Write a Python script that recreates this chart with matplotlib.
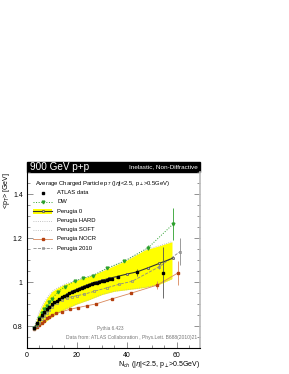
import matplotlib
matplotlib.use("Agg")
import matplotlib.pyplot as plt
from matplotlib.ticker import MultipleLocator
from matplotlib.patches import Rectangle
from matplotlib.lines import Line2D

plt.rcParams['font.family'] = ['Liberation Sans', 'DejaVu Sans']

# ATLAS data
n_data = [3, 4, 5, 6, 7, 8, 9, 10, 11, 12, 13, 14, 15, 16, 17, 18, 19, 20, 21, 22, 23, 24,
          25, 26, 27, 28, 29, 30, 31, 32, 33, 34, 36.5, 44, 54.5]
pt_data = [0.79, 0.812, 0.832, 0.849, 0.863, 0.876, 0.888, 0.898, 0.907, 0.915, 0.923, 0.93,
           0.937, 0.943, 0.949, 0.955, 0.96, 0.965, 0.97, 0.974, 0.978, 0.982, 0.986, 0.99,
           0.994, 0.997, 1.0, 1.003, 1.006, 1.009, 1.012, 1.015, 1.022, 1.044, 1.042]
err_data = [0.003] * 32 + [0.006, 0.015, 0.115]

# DW
n_dw = [3, 4, 5, 6, 7, 8, 9, 10, 12.5, 15.2, 19.2, 22.5, 26.5, 31.9, 39, 48.5, 58.3]
pt_dw = [0.79, 0.81, 0.835, 0.858, 0.877, 0.893, 0.91, 0.925, 0.956, 0.979, 1.005, 1.017,
         1.029, 1.062, 1.095, 1.156, 1.262]
err_dw = [0] * 15 + [0.01, 0.073]

# Perugia 0
n_p0 = [3, 4, 5, 6, 7, 8, 9, 10, 12, 14, 16, 18, 20, 22, 24, 26, 28, 30, 33, 36, 40, 44,
        48.5, 53, 58.3]
pt_p0 = [0.792, 0.812, 0.83, 0.846, 0.86, 0.873, 0.885, 0.896, 0.915, 0.931, 0.945, 0.957,
         0.968, 0.978, 0.987, 0.995, 1.002, 1.008, 1.017, 1.025, 1.036, 1.046, 1.065, 1.085,
         1.108]

# Perugia HARD / SOFT envelope
n_band = [3, 4, 5, 6, 7, 8, 10, 12.5, 15, 20, 25, 30, 35, 40, 47, 53, 58]
pt_hard = [0.80, 0.835, 0.865, 0.89, 0.91, 0.928, 0.957, 0.975, 0.99, 1.008, 1.027, 1.05,
           1.075, 1.10, 1.145, 1.165, 1.183]
pt_soft = [0.78, 0.79, 0.80, 0.808, 0.815, 0.825, 0.842, 0.86, 0.875, 0.90, 0.92, 0.943,
           0.958, 0.965, 0.975, 0.99, 1.015]

# Perugia NOCR
n_nocr = [3, 4, 5, 6, 7, 8, 9, 10, 11.5, 13.9, 17.2, 20.5, 23.9, 27.5, 33.9, 41.6, 52.1, 60.5]
pt_nocr = [0.785, 0.795, 0.805, 0.815, 0.825, 0.835, 0.843, 0.85, 0.858, 0.865, 0.876, 0.884,
           0.892, 0.9, 0.923, 0.949, 0.986, 1.042]
err_nocr = [0] * 16 + [0.02, 0.055]

# Perugia 2010
n_p10 = [3, 4, 5, 6, 7, 8, 9, 10, 12, 14, 16, 18, 20, 23, 27, 32, 37, 42, 53, 61.2]
pt_p10 = [0.785, 0.80, 0.815, 0.83, 0.845, 0.86, 0.875, 0.887, 0.905, 0.918, 0.927, 0.933,
          0.938, 0.945, 0.958, 0.974, 0.99, 1.003, 1.07, 1.138]
err_p10 = [0] * 18 + [0.01, 0.06]

c_dw = '#2ca02c'
c_p0 = '#333333'
c_hs = '#b0b0b0'
c_nocr = '#b5400f'
c_nocr_line = '#d9875a'
c_p10 = '#8a8a8a'

fig = plt.figure(figsize=(2.89, 3.74), dpi=100)
ax = fig.add_axes([0.0934, 0.0695, 0.5986, 0.4706])

ax.fill_between(n_band, pt_soft, pt_hard, color='#ffff00', lw=0, zorder=1)
ax.plot(n_band, pt_hard, ls=':', color=c_hs, lw=0.6, zorder=2)
ax.plot(n_band, pt_soft, ls=':', color=c_hs, lw=0.6, zorder=2)

ax.errorbar(n_nocr, pt_nocr, yerr=err_nocr, color=c_nocr_line, lw=0.6, elinewidth=0.6,
            marker='s', ms=1.8, mfc=c_nocr, mec=c_nocr, zorder=3)
ax.errorbar(n_p10, pt_p10, yerr=err_p10, color=c_p10, ls='--', lw=0.6, elinewidth=0.6,
            marker='s', ms=2.1, mfc='none', mec=c_p10, mew=0.5, zorder=3)
ax.errorbar(n_dw, pt_dw, yerr=err_dw, color=c_dw, ls=':', lw=0.7, elinewidth=0.6,
            marker='v', ms=2.0, mfc=c_dw, mec=c_dw, zorder=4)
ax.plot(n_p0, pt_p0, color=c_p0, lw=0.8, marker='o', ms=1.7, mfc='#bbbbbb', mec=c_p0,
        mew=0.4, zorder=5)
ax.errorbar(n_data, pt_data, yerr=err_data, ls='none', color='#555555', elinewidth=0.6,
            marker='s', ms=1.6, mfc='black', mec='black', zorder=6)

ax.set_xlim(0, 69.2)
ax.set_ylim(0.7, 1.5)
ax.xaxis.set_major_locator(MultipleLocator(20))
ax.xaxis.set_minor_locator(MultipleLocator(5))
ax.yaxis.set_major_locator(MultipleLocator(0.2))
ax.yaxis.set_minor_locator(MultipleLocator(0.05))
ax.set_yticks([0.8, 1.0, 1.2, 1.4])
ax.set_yticklabels(['0.8', '1', '1.2', '1.4'])
ax.tick_params(which='both', direction='in', right=True, top=False, labelsize=5, pad=3,
               width=0.5, color='#666666')
ax.tick_params(which='major', length=4)
ax.tick_params(which='minor', length=2)
ax.spines['top'].set_visible(False)
ax.spines['left'].set_linewidth(0.8)
ax.spines['bottom'].set_linewidth(0.8)
ax.spines['right'].set_color('#bbbbbb')
ax.spines['right'].set_linewidth(1.2)

ax.set_ylabel(r'<p$_T$> [GeV]', fontsize=5, ha='right')
ax.yaxis.set_label_coords(-0.085, 1.0)
ax.set_xlabel(r'N$_{ch}$ (|$\eta$|<2.5, p$_\perp$>0.5GeV)', fontsize=5, ha='right')
ax.xaxis.set_label_coords(1.0, -0.065)

# title bar
bar = Rectangle((0, 1.0), 1.0, 10 / 176, transform=ax.transAxes, color='black',
                clip_on=False)
ax.add_patch(bar)
ax.text(0.02, 1.0 + 5 / 176, '900 GeV p+p', transform=ax.transAxes, color='white',
        fontsize=7.2, va='center', ha='left')
ax.text(0.985, 1.0 + 5 / 176, 'Inelastic, Non-Diffractive', transform=ax.transAxes,
        color='white', fontsize=4.6, va='center', ha='right')

ax.text(0.046, 0.937, r'Average Charged Particle p$_T$ (|$\eta$|<2.5, p$_\perp$>0.5GeV)',
        transform=ax.transAxes, fontsize=4.2, va='center', ha='left')
ax.text(0.48, 0.108, 'Pythia 6.423', transform=ax.transAxes, fontsize=3.4,
        color='#777777', ha='center', va='center')
ax.text(0.985, 0.057, 'Data from: ATLAS Collaboration , Phys.Lett. B688(2010)21',
        transform=ax.transAxes, fontsize=3.6, color='#777777', ha='right', va='center')

# legend drawn by hand
labels = ['ATLAS data', 'DW', 'Perugia 0', 'Perugia HARD', 'Perugia SOFT', 'Perugia NOCR',
          'Perugia 2010']
rows = [0.881, 0.830, 0.776, 0.724, 0.672, 0.620, 0.568]
kx0, kx1, kxm, tx = 0.035, 0.145, 0.09, 0.175
styles = [
    dict(ls='none', marker='s', ms=1.6, mfc='black', mec='black', color='black'),
    dict(ls=':', color=c_dw, lw=0.7, marker='v', ms=2.0, mfc=c_dw, mec=c_dw),
    dict(ls='-', color=c_p0, lw=0.8, marker='o', ms=1.7, mfc='#bbbbbb', mec=c_p0, mew=0.4),
    dict(ls=':', color=c_hs, lw=0.6),
    dict(ls=':', color=c_hs, lw=0.6),
    dict(ls='-', color=c_nocr_line, lw=0.6, marker='s', ms=1.8, mfc=c_nocr, mec=c_nocr),
    dict(ls='--', color=c_p10, lw=0.6, marker='s', ms=2.1, mfc='none', mec=c_p10, mew=0.5),
]
for lab, yy, st in zip(labels, rows, styles):
    if lab == 'Perugia 0':
        ax.add_patch(Rectangle((kx0, yy - 0.016), kx1 - kx0, 0.032, transform=ax.transAxes,
                               color='#ffff00', lw=0, clip_on=False))
    ln = Line2D([kx0, kxm, kx1], [yy, yy, yy], transform=ax.transAxes, markevery=[1], **st)
    ax.add_line(ln)
    ax.text(tx, yy, lab, transform=ax.transAxes, fontsize=4.2, va='center', ha='left')

fig.savefig('out.png', dpi=100)
